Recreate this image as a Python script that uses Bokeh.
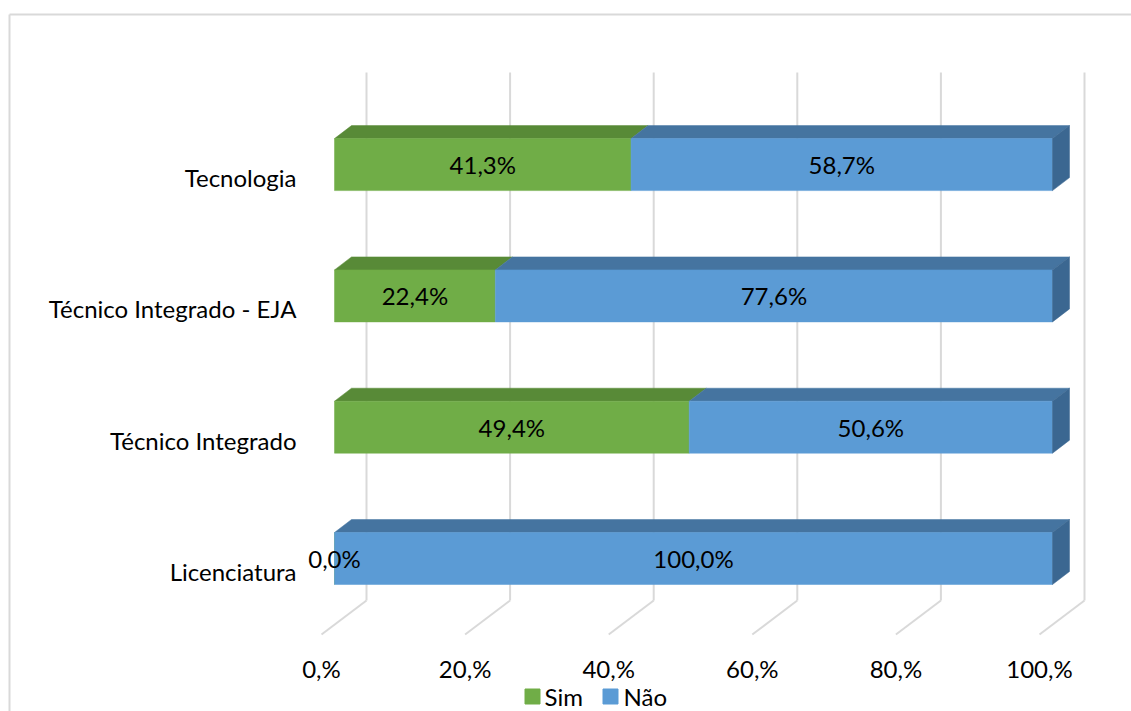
from bokeh.plotting import figure
from bokeh.models import ColumnDataSource, Range1d
from bokeh.core.properties import value
from bokeh.embed import file_html
from bokeh.resources import INLINE

categories = ["Licenciatura", "Técnico Integrado", "Técnico Integrado - EJA", "Tecnologia"]
sim = [0.0, 49.4, 22.4, 41.3]
nao = [100.0, 50.6, 77.6, 58.7]
ticks = [0, 20, 40, 60, 80, 100]
tick_labels = ["0,%", "20,%", "40,%", "60,%", "80,%", "100,%"]
series_names = ["Sim", "Não"]

W, H = 1131, 711
PX_X = 7.18      # px per percent
PX_Y = 131.3     # px per category step
X0_FIG = 334.0   # figure px of 0%
Y0_FIG = 558.0   # figure px of first category centre

xs = -X0_FIG / PX_X
xe = xs + W / PX_X
ye = Y0_FIG / PX_Y
ys = ye - H / PX_Y

def dx(px):
    return px / PX_X

def dy(px):
    return -px / PX_Y   # px downward -> data

def y_of_img(py):
    return (Y0_FIG - py) / PX_Y

p = figure(width=W, height=H, output_backend="svg", toolbar_location=None,
           x_range=Range1d(xs, xe), y_range=Range1d(ys, ye),
           min_border=0, outline_line_color=None)
p.axis.visible = False
p.grid.visible = False
p.background_fill_color = "white"

FONT = value("Lato")
FS = "24px"
GRID = "#D9D9D9"

# chart border (left and top)
p.line([xs + dx(9), xs + dx(9)], [ys, y_of_img(14)], line_color=GRID, line_width=2)
p.line([xs + dx(9), xe], [y_of_img(14), y_of_img(14)], line_color=GRID, line_width=2)

# back-wall gridlines and floor lines
wall_dx = dx(32)
y_top = y_of_img(72)
y_floor_back = y_of_img(600)
y_floor_front = y_of_img(634)
for t in ticks:
    p.line([t + wall_dx, t + wall_dx], [y_floor_back, y_top], line_color=GRID, line_width=2)
    p.line([t + wall_dx, t + dx(-13)], [y_floor_back, y_floor_front], line_color=GRID, line_width=2)

# bars
half = 26 / PX_Y
bdx, bdy = dx(17), -dy(13)
ypos = list(range(len(categories)))
front_cols = ["#70AD47", "#5B9BD5"]
top_cols = ["#588A37", "#4574A0"]
side_col = "#3B6791"

lefts = [[0.0] * len(sim), sim]
rights = [sim, [s + n for s, n in zip(sim, nao)]]
for k in range(2):
    for i in ypos:
        l, r = lefts[k][i], rights[k][i]
        if r - l <= 0:
            continue
        yt = i + half
        p.patch([l, r, r + bdx, l + bdx], [yt, yt, yt + bdy, yt + bdy],
                fill_color=top_cols[k], line_color=top_cols[k], line_width=0.5)
    src = ColumnDataSource(dict(y=ypos, left=lefts[k], right=rights[k]))
    p.hbar(y="y", left="left", right="right", height=2 * half, source=src,
           fill_color=front_cols[k], line_color=front_cols[k], line_width=0.5)

# right side faces
for i in ypos:
    r = rights[1][i]
    yt, yb = i + half, i - half
    p.patch([r, r + bdx, r + bdx, r], [yt, yt + bdy, yb + bdy, yb],
            fill_color=side_col, line_color=side_col, line_width=0.5)

# data labels
fmt = lambda v: ("%.1f%%" % v).replace(".", ",")
lx, ly, lt = [], [], []
for i in ypos:
    lx.append((lefts[0][i] + rights[0][i]) / 2); ly.append(i); lt.append(fmt(sim[i]))
    lx.append((lefts[1][i] + rights[1][i]) / 2); ly.append(i); lt.append(fmt(nao[i]))
p.text(x=lx, y=ly, text=lt, text_font=FONT, text_font_size=FS,
       text_align="center", text_baseline="middle", text_color="#000000")

# category labels
p.text(x=[dx(296 - 334)] * len(categories), y=[i + dy(13) for i in ypos], text=categories,
       text_font=FONT, text_font_size=FS, text_align="right",
       text_baseline="middle", text_color="#000000")

# tick labels
p.text(x=[t + dx(-13) for t in ticks], y=[y_of_img(668)] * len(ticks), text=tick_labels,
       text_font=FONT, text_font_size=FS, text_align="center",
       text_baseline="middle", text_color="#000000")

# legend
leg_y = y_of_img(696)
sq_x = [dx(532 - 334), dx(610 - 334)]
p.scatter(x=sq_x, y=[leg_y, leg_y], marker="square", size=15,
          fill_color=front_cols, line_color=front_cols)
p.text(x=[dx(544 - 334), dx(623 - 334)], y=[leg_y, leg_y], text=series_names,
       text_font=FONT, text_font_size=FS, text_align="left",
       text_baseline="middle", text_color="#000000")

open("out.html", "w").write(file_html(p, INLINE))
